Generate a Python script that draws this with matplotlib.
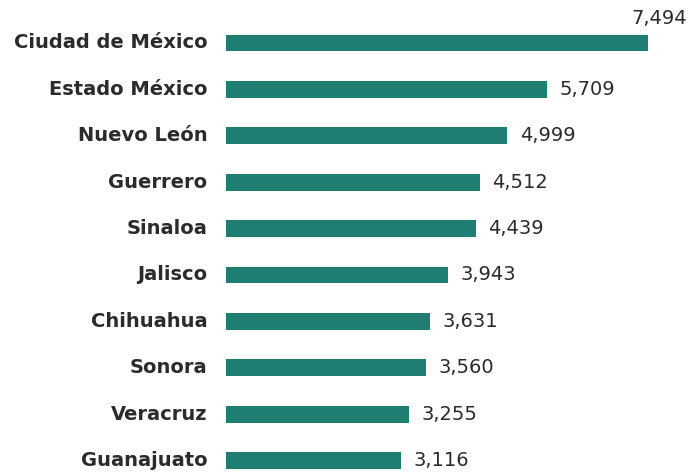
import matplotlib
matplotlib.use("Agg")
import matplotlib.pyplot as plt

estados = ["Ciudad de México", "Estado México", "Nuevo León", "Guerrero", "Sinaloa",
           "Jalisco", "Chihuahua", "Sonora", "Veracruz", "Guanajuato"]
valores = [7494, 5709, 4999, 4512, 4439, 3943, 3631, 3560, 3255, 3116]
etiquetas = ["7,494", "5,709", "4,999", "4,512", "4,439", "3,943", "3,631", "3,560", "3,255", "3,116"]

TEAL = "#1f7d72"
TXT = "#2b2b2b"

fig = plt.figure(figsize=(6.98, 4.74), dpi=100)
ax = fig.add_axes([226/698, 0, 472/698, 1])
pos = list(range(len(estados)))
ax.barh(pos, valores, height=0.36, color=TEAL)
ax.set_xlim(0, 472/0.0563)
ax.set_ylim((474-43)/46.4, -43/46.4)
ax.axis("off")

for i, (name, v, lab) in enumerate(zip(estados, valores, etiquetas)):
    ax.text(-330, i, name, ha="right", va="center", fontsize=14, fontweight="bold",
            color=TXT, family="DejaVu Sans")
    if i == 0:
        ax.text(v + 200, i - 0.32, lab, ha="center", va="bottom", fontsize=14,
                color=TXT, family="DejaVu Sans")
    else:
        ax.text(v + 220, i, lab, ha="left", va="center", fontsize=14,
                color=TXT, family="DejaVu Sans")

fig.savefig("out.png", dpi=100)
